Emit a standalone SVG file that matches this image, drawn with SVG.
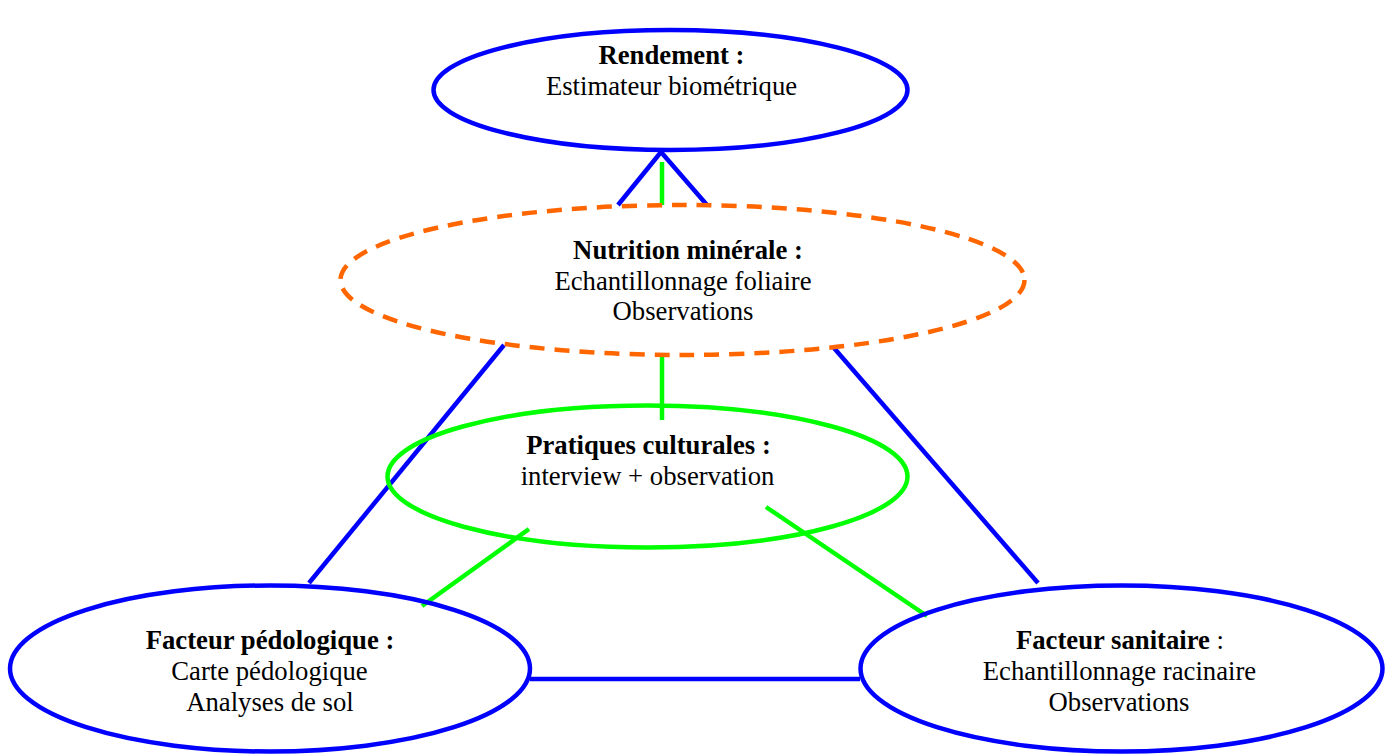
<svg xmlns="http://www.w3.org/2000/svg" width="1387" height="754" viewBox="0 0 1387 754">
<style>
text{font-family:"Liberation Serif","Times New Roman",serif;font-size:26.7px;fill:#000;text-anchor:middle}
.b{font-weight:bold}
.blue{fill:none;stroke:#0000ff;stroke-width:4.5}
.green{fill:none;stroke:#00ff00;stroke-width:4.5}
.orange{fill:none;stroke:#ff6600;stroke-width:4.5;stroke-dasharray:15 10}
</style>
<rect width="1387" height="754" fill="#fff"/>
<g id="connectors">
<line class="blue" x1="661" y1="152" x2="618" y2="205"/>
<line class="blue" x1="661" y1="152" x2="707" y2="205"/>
<line class="green" x1="662" y1="162" x2="662" y2="205"/>
<line class="blue" x1="504" y1="345" x2="309" y2="583"/>
<line class="blue" x1="834" y1="348" x2="1038" y2="583"/>
<line class="green" x1="662" y1="355" x2="662" y2="420"/>
<line class="green" x1="529" y1="529" x2="422" y2="606"/>
<line class="green" x1="766" y1="507" x2="927" y2="616"/>
<line class="blue" x1="530" y1="679" x2="860" y2="679"/>
</g>
<g id="rendement">
<ellipse class="blue" cx="670.5" cy="90" rx="237" ry="60"/>
<text class="b" x="671.5" y="64">Rendement :</text>
<text x="671.5" y="95">Estimateur biométrique</text>
</g>
<g id="nutrition">
<ellipse class="orange" cx="682.5" cy="280" rx="342" ry="75"/>
<text class="b" x="688" y="259">Nutrition minérale :</text>
<text x="683" y="290">Echantillonnage foliaire</text>
<text x="683" y="320">Observations</text>
</g>
<g id="pratiques">
<ellipse class="green" cx="647.5" cy="476.5" rx="260" ry="71"/>
<text class="b" x="648.5" y="454">Pratiques culturales :</text>
<text x="647.5" y="485">interview + observation</text>
</g>
<g id="pedologique">
<ellipse class="blue" cx="270" cy="668.5" rx="260" ry="83"/>
<text class="b" x="270" y="649">Facteur pédologique :</text>
<text x="269.5" y="680">Carte pédologique</text>
<text x="270" y="711">Analyses de sol</text>
</g>
<g id="sanitaire">
<ellipse class="blue" cx="1121.5" cy="668.5" rx="261" ry="83"/>
<text x="1120" y="649"><tspan class="b">Facteur sanitaire</tspan> :</text>
<text x="1119.5" y="680">Echantillonnage racinaire</text>
<text x="1119" y="711">Observations</text>
</g>
</svg>
